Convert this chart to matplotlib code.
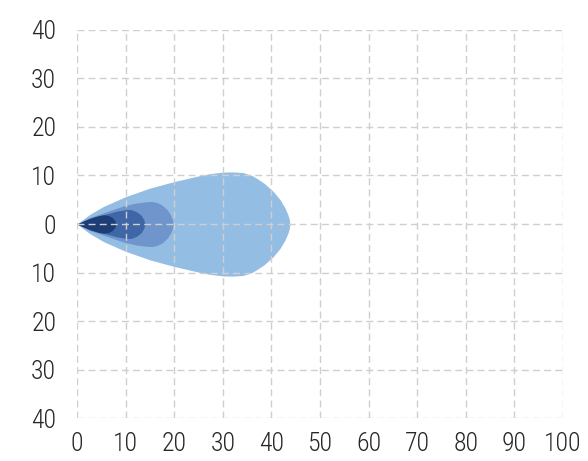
import matplotlib
matplotlib.use("Agg")
import matplotlib.pyplot as plt
from matplotlib import font_manager

# ---- data: beam outlines (distance x, half-width y) ----
outer_x = [0, 2.5, 5.4, 9.9, 15, 19.8, 24.9, 27.5, 30, 32, 34.2, 36, 37, 38.5, 40.4, 41.8, 42.8, 43.4, 43.7, 43.8]
outer_y = [0, 1.9, 3.6, 5.6, 7.4, 8.7, 9.9, 10.4, 10.7, 10.75, 10.6, 10.0, 9.4, 8.4, 6.7, 5.0, 3.3, 1.9, 0.9, 0]

mid_x = [0, 2.5, 5.4, 9.5, 12, 14.3, 15.5, 16.5, 17.5, 18.5, 19.2, 19.6, 19.8]
mid_y = [0, 1.3, 2.3, 3.7, 4.3, 4.6, 4.65, 4.4, 3.9, 3.0, 2.0, 1.0, 0]

inner_x = [0, 2.5, 5.4, 8, 10.2, 11.2, 12.3, 13.2, 13.7, 14.0]
inner_y = [0, 1.1, 1.9, 2.6, 3.0, 2.95, 2.5, 1.8, 1.0, 0]

core_x = [0, 1.5, 3, 4.5, 5.5, 6.5, 7.3, 7.8, 8.0]
core_y = [0, 0.7, 1.3, 1.75, 1.9, 1.75, 1.3, 0.7, 0]

beams = [(outer_x, outer_y, "#94bde4"),
         (mid_x, mid_y, "#6f95cc"),
         (inner_x, inner_y, "#3f66a6"),
         (core_x, core_y, "#1c3d75")]

x_ticks = [0, 10, 20, 30, 40, 50, 60, 70, 80, 90, 100]
y_ticks = [-40, -30, -20, -10, 0, 10, 20, 30, 40]
y_tick_labels = ["40", "30", "20", "10", "0", "10", "20", "30", "40"]

available = {f.name for f in font_manager.fontManager.ttflist}
fam = [f for f in ["Roboto Condensed", "Liberation Sans Narrow", "DejaVu Sans"] if f in available or f == "DejaVu Sans"]
plt.rcParams["font.family"] = fam

fig = plt.figure(figsize=(5.88, 4.61), dpi=100)
ax = fig.add_axes([77 / 588, 1 - 418 / 461, 486 / 588, 388 / 461])

for bx, by, col in beams:
    ax.fill_between(bx, [-v for v in by], by, color=col, lw=0, zorder=1)

ax.set_xlim(0, 100)
ax.set_ylim(-40, 40)
ax.set_xticks(x_ticks)
ax.set_yticks(y_ticks)
ax.set_yticklabels(y_tick_labels)
ax.tick_params(length=0, labelsize=18.5, colors="#262626")
ax.tick_params(axis="y", pad=15)
ax.tick_params(axis="x", pad=10)
for lab in ax.get_xticklabels() + ax.get_yticklabels():
    lab.set_fontweight("light")
for s in ax.spines.values():
    s.set_visible(False)
ax.set_axisbelow(False)
ax.grid(True, color="#cfcfcf", linestyle=(0, (5, 3)), linewidth=1.0, zorder=2)

fig.savefig("out.png", dpi=100)
